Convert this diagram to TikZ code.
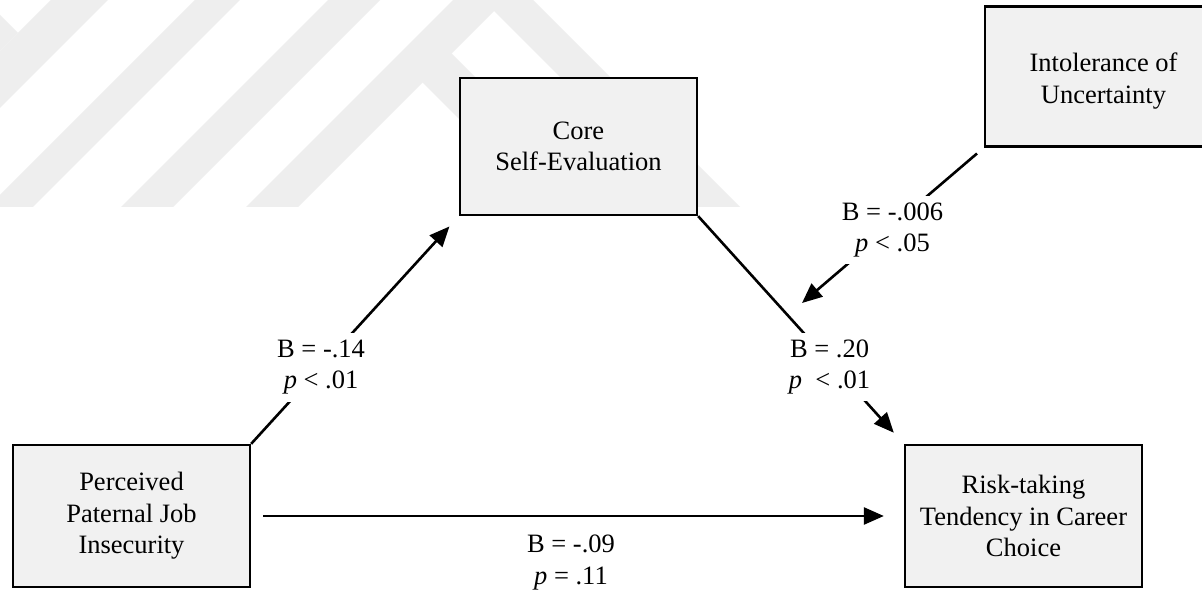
\documentclass[tikz,border=0pt]{standalone}
\usepackage{fontspec}
\setmainfont{Liberation Serif}
\usetikzlibrary{arrows.meta}
\definecolor{boxfill}{RGB}{241,241,241}
\definecolor{wmark}{RGB}{238,238,238}
\begin{document}
\begin{tikzpicture}[x=1pt,y=-1pt,
  txt/.style={font=\fontsize{26.5}{31.5}\selectfont},
  box/.style={txt, draw=black, line width=2.3pt, fill=boxfill, minimum width=237pt, align=center, inner sep=0pt},
  lab/.style={txt, fill=white, align=center, inner xsep=2pt, inner ysep=7pt},
  arr/.style={line width=2.6pt, -{Triangle[length=20pt,width=17pt]}}
]
\path[use as bounding box, fill=white] (0,0) rectangle (1202,596);
% faint watermark
\begin{scope}
  \clip (0,0) rectangle (1202,207);
  \fill[wmark] (51,0) -- (108,0) -- (0,108) -- (0,51) -- cycle;
  \fill[wmark] (0,15) -- (18,33) -- (0,51) -- cycle;
  \fill[wmark] (195,0) -- (240,0) -- (0,240) -- (0,195) -- cycle;
  \fill[wmark] (328,0) -- (380,0) -- (0,380) -- (0,328) -- cycle;
  \fill[wmark] (193,260) -- (493,-40) -- (793,260) -- (743,260) -- (494,11) -- (245,260) -- cycle;
  \fill[wmark] (446.5,48.5) -- (417.5,77.5) -- (600,260) -- (658,260) -- cycle;
\end{scope}
% boxes
\node[box, minimum height=137pt] (core) at (578.5,146.5) {Core\\Self-Evaluation};
\node[box, minimum height=140pt] (intol) at (1103.5,76.5) {\rule{0pt}{28pt}Intolerance of\\Uncertainty};
\node[box, minimum height=142pt] (perc) at (131.5,516) {Perceived\\Paternal Job\\Insecurity};
\node[box, minimum height=142pt] (risk) at (1023.5,516) {Risk-taking\\Tendency in Career\\Choice};
\coordinate (modtip) at (802,303);
% connectors
\draw[arr, shorten >=14pt] (perc.north east) -- (core.south west)
  node[lab, pos=0.3365] {B = -.14\\\textit{p} < .01};
\draw[arr, shorten >=15pt] (core.south east) -- (risk.north west)
  node[lab, pos=0.663, xshift=-5pt] {B = .20\\\textit{p}\ \ < .01};
\draw[arr, shorten <=9pt] (intol.south west) -- (modtip)
  node[lab, pos=0.53, xshift=5pt] {B = -.006\\\textit{p} < .05};
\draw[arr, shorten <=12pt, shorten >=20pt] (perc.east) -- (risk.west)
  node[lab, pos=0.49, below=11pt] {B = -.09\\\textit{p} = .11};
\end{tikzpicture}
\end{document}
